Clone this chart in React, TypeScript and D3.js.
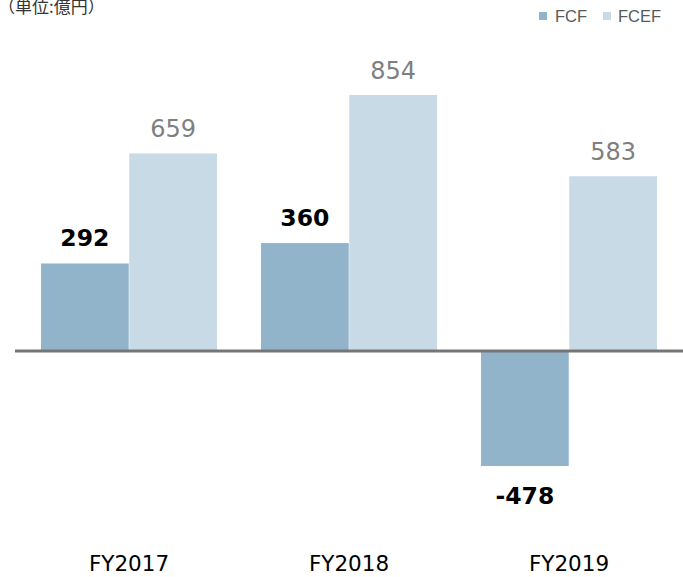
import React from "react";
import * as d3 from "d3";

const categories = ["FY2017", "FY2018", "FY2019"];
const seriesNames = ["FCF", "FCEF"];
const fcf = [292, 360, -478];
const fcef = [659, 854, 583];
const unitLabel = "（単位:億円）";

const W = 683;
const H = 577;
const colors = ["#91b4cb", "#c8dae6"];
const font = "'DejaVu Sans', Verdana, sans-serif";

export default function App() {
  const x0 = d3.scaleBand<string>().domain(categories).range([19, 679]).paddingInner(0).paddingOuter(0);
  const x1 = d3.scaleBand<string>().domain(seriesNames).range([22, x0.bandwidth() - 22]).paddingInner(0.006);
  const y = d3.scaleLinear().domain([-478, 0, 854]).range([466, 351, 95]);

  const data = categories.map((c, i) => ({ c, vals: [fcf[i], fcef[i]] }));

  return (
    <svg width={W} height={H} style={{ position: "absolute", left: 0, top: 0, background: "#fff" }} fontFamily={font}>
      <text x={-2} y={13} fontSize={17} fill="#333" fontFamily="'Noto Sans CJK JP', sans-serif">{unitLabel}</text>
      {/* legend */}
      <g fontSize={16.5} fill="#595959" fontFamily="'Liberation Sans', Arial, sans-serif">
        <rect x={539} y={12} width={8} height={8} fill={colors[0]} />
        <text x={555} y={22}>{seriesNames[0]}</text>
        <rect x={603} y={12} width={8} height={8} fill={colors[1]} />
        <text x={618} y={22}>{seriesNames[1]}</text>
      </g>
      {data.map((d) => (
        <g key={d.c} transform={`translate(${x0(d.c)},0)`}>
          {d.vals.map((v, j) => {
            const bx = x1(seriesNames[j])!;
            const top = Math.min(y(v), y(0));
            const h = Math.abs(y(v) - y(0));
            return <rect key={j} x={bx} y={top} width={x1.bandwidth()} height={h} fill={colors[j]} />;
          })}
          {d.vals.map((v, j) => {
            const cx = x1(seriesNames[j])! + x1.bandwidth() / 2;
            const ly = v >= 0 ? y(v) - (j === 0 ? 17 : 16) : y(v) + 38;
            return (
              <text key={"l" + j} x={cx} y={ly} textAnchor="middle" fontSize={j === 0 ? 23.5 : 24}
                fontWeight={j === 0 ? "bold" : "normal"} fill={j === 0 ? "#000" : "#7f7f7f"}>
                {v}
              </text>
            );
          })}
          <text x={x0.bandwidth() / 2} y={571} textAnchor="middle" fontSize={21.5} fill="#000">{d.c}</text>
        </g>
      ))}
      <line x1={15} x2={683} y1={y(0)} y2={y(0)} stroke="#767676" strokeWidth={3} />
    </svg>
  );
}
